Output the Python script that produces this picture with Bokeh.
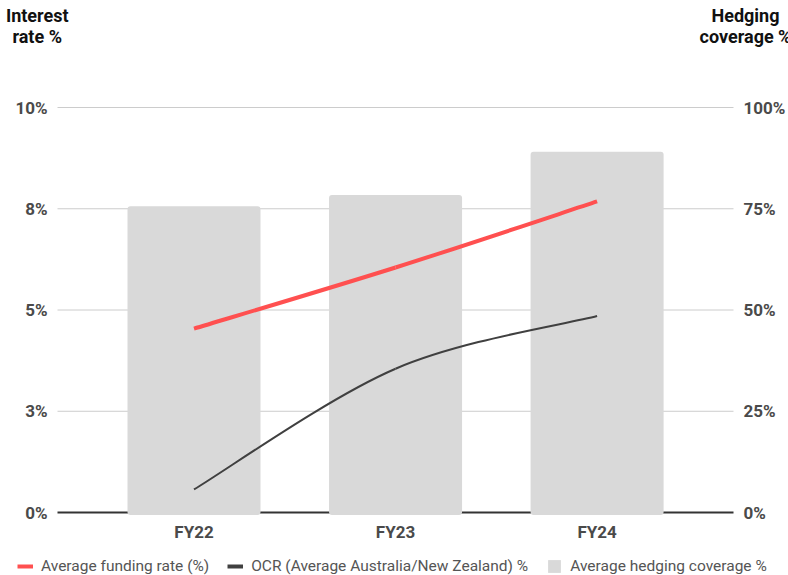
from bokeh.plotting import figure
from bokeh.models import Range1d, Legend, LegendItem
from bokeh.core.properties import value
from bokeh.embed import file_html
from bokeh.resources import INLINE

# ---- data -------------------------------------------------------------
years = ["FY22", "FY23", "FY24"]
funding_rate = [4.54, 6.05, 7.68]          # Average funding rate (%)
ocr_rate = [0.57, 3.55, 4.85]              # OCR (Average Australia/New Zealand) %
hedging_coverage = [75.6, 78.4, 89.1]      # Average hedging coverage %

rate_ticks = [0, 2.5, 5, 7.5, 10]
rate_tick_labels = ["0%", "3%", "5%", "8%", "10%"]
cover_ticks = [0, 25, 50, 75, 100]
cover_tick_labels = ["0%", "25%", "50%", "75%", "100%"]

left_title = ["Interest", "rate %"]
right_title = ["Hedging", "coverage %"]

# ---- styling ----------------------------------------------------------
FONT = "Roboto"
RED = "#ff5050"
DARK = "#404040"
BAR = "#d9d9d9"
TICK_COLOR = "#4a4a4a"
W, H = 788, 575

# plot area geometry (pixels) and the matching data ranges
PLOT_L, PLOT_R, PLOT_T, PLOT_B = 57, 733, 107, 512
STEP = 201.55                       # pixels per category
X0_PX = 193.5                       # pixel position of the first category
Y_PX = (PLOT_B - PLOT_T) / 10.0     # pixels per rate percent


def px_x(px):
    return (px - X0_PX) / STEP


def px_y(py):
    return (PLOT_B - py) / Y_PX


xs = list(range(len(years)))
rate_range = Range1d(px_y(H), px_y(0))
cover_scale = cover_ticks[-1] / rate_ticks[-1]

p = figure(width=W, height=H,
           x_range=Range1d(px_x(0), px_x(W)), y_range=rate_range,
           output_backend="svg", toolbar_location=None,
           x_axis_location=None, y_axis_location=None,
           min_border=0, min_border_left=0, min_border_right=0,
           min_border_top=0, min_border_bottom=0,
           outline_line_color=None, background_fill_color="white")
p.grid.visible = False
p.extra_y_ranges = {"cover": Range1d(rate_range.start * cover_scale,
                                     rate_range.end * cover_scale)}

x_left, x_right = px_x(PLOT_L), px_x(PLOT_R)

# horizontal gridlines and the dark zero line, all underneath the bars
grid_y = rate_ticks[1:]
p.segment(x0=[x_left] * len(grid_y), x1=[x_right] * len(grid_y),
          y0=grid_y, y1=grid_y, line_color="#cccccc", line_width=1,
          level="underlay")
p.segment(x0=[x_left], x1=[x_right], y0=[rate_ticks[0]], y1=[rate_ticks[0]],
          line_color="#333333", line_width=2, level="underlay")

# hedging coverage bars (their foot covers the zero line)
bar_foot = px_y(PLOT_B + 2.5) * cover_scale
bars = p.vbar(x=xs, top=hedging_coverage, bottom=bar_foot, width=0.66,
              y_range_name="cover", fill_color=BAR, line_color=None,
              border_radius=3)


def smooth_segments(x, y):
    """Cubic Bezier segments (Catmull-Rom style) through the given points."""
    n = len(x)
    seg = dict(x0=[], y0=[], x1=[], y1=[], cx0=[], cy0=[], cx1=[], cy1=[])
    for i in range(n - 1):
        ip = max(i - 1, 0)
        inx = min(i + 2, n - 1)
        seg["x0"].append(x[i]); seg["y0"].append(y[i])
        seg["x1"].append(x[i + 1]); seg["y1"].append(y[i + 1])
        seg["cx0"].append(x[i] + (x[i + 1] - x[ip]) / 6)
        seg["cy0"].append(y[i] + (y[i + 1] - y[ip]) / 6)
        seg["cx1"].append(x[i + 1] - (x[inx] - x[i]) / 6)
        seg["cy1"].append(y[i + 1] - (y[inx] - y[i]) / 6)
    return seg


p.bezier(**smooth_segments(xs, ocr_rate), line_color=DARK, line_width=2)
p.bezier(**smooth_segments(xs, funding_rate), line_color=RED, line_width=4)

# ---- axis labels --------------------------------------------------------
tick_style = dict(text_font=value(FONT), text_font_style="bold",
                  text_font_size="17px", text_color=TICK_COLOR,
                  text_baseline="middle")
p.text(x=[px_x(47)] * len(rate_ticks), y=rate_ticks, text=rate_tick_labels,
       text_align="right", **tick_style)
p.text(x=[px_x(743)] * len(cover_ticks), y=cover_ticks, text=cover_tick_labels,
       text_align="left", y_range_name="cover", **tick_style)
p.text(x=xs, y=[px_y(531.5)] * len(xs), text=years, text_align="center",
       **tick_style)

title_style = dict(text_font=value(FONT), text_font_style="bold",
                   text_font_size="18px", text_color="#111111",
                   text_baseline="alphabetic", text_align="center")
p.text(x=[px_x(36.7)] * 2, y=[px_y(15), px_y(36)], text=left_title, **title_style)
p.text(x=[px_x(745)] * 2, y=[px_y(15), px_y(36)], text=right_title, **title_style)

# ---- legend -------------------------------------------------------------
# thicker swatches for the legend (single-point lines draw nothing in the plot)
leg_red = p.line(x=xs[:1], y=funding_rate[:1], line_color=RED, line_width=4)
leg_dark = p.line(x=xs[:1], y=ocr_rate[:1], line_color=DARK, line_width=4)

legend = Legend(items=[
    LegendItem(label="Average funding rate (%)", renderers=[leg_red]),
    LegendItem(label="OCR (Average Australia/New Zealand) %", renderers=[leg_dark]),
    LegendItem(label="Average hedging coverage %", renderers=[bars]),
], location=(17, 0), orientation="horizontal",
    glyph_width=16, glyph_height=16, label_height=16, label_standoff=8,
    spacing=18, padding=0, margin=0, border_line_color=None,
    background_fill_alpha=0, label_text_font=FONT,
    label_text_font_size="15.5px", label_text_color="#555555")
p.add_layout(legend)

open("out.html", "w").write(file_html(p, INLINE))
